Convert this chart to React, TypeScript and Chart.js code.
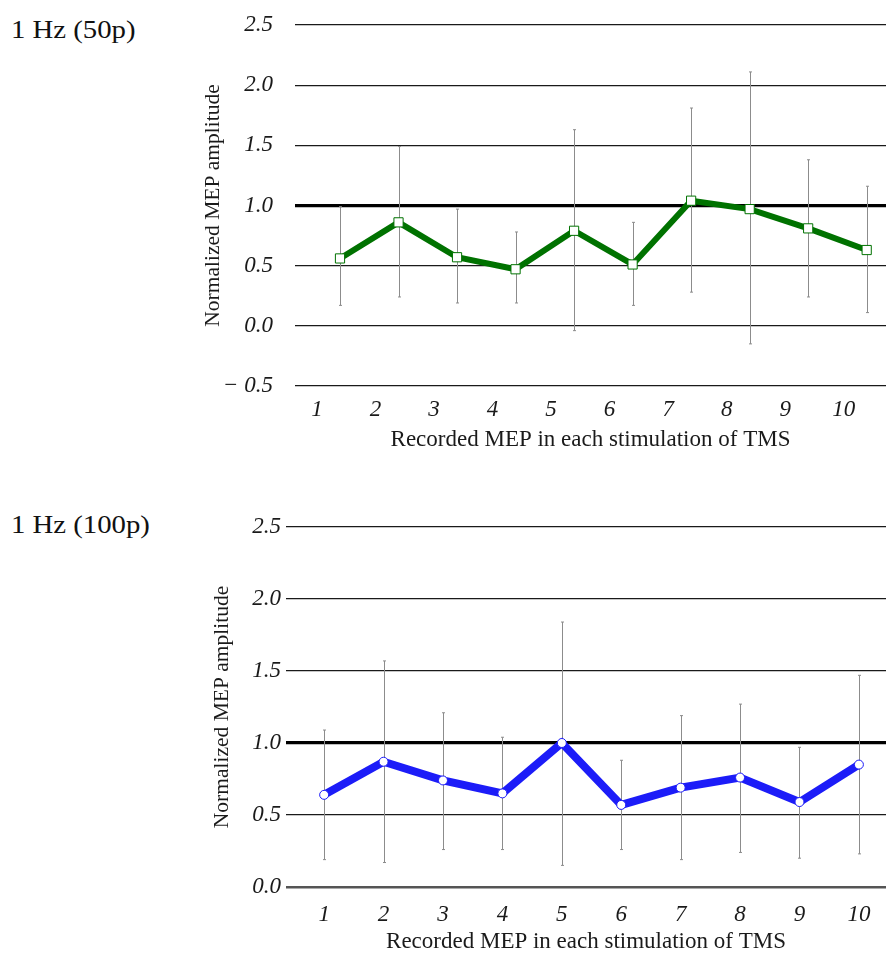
import React, { useEffect, useRef } from "react";
import { Chart, registerables } from "chart.js";

Chart.register(...registerables);

// ---- data ----
const stimulations = [1, 2, 3, 4, 5, 6, 7, 8, 9, 10];

const mean50 = [0.56, 0.86, 0.57, 0.47, 0.79, 0.51, 1.04, 0.97, 0.81, 0.63];
const upper50 = [0.99, 1.49, 0.97, 0.78, 1.63, 0.86, 1.81, 2.11, 1.38, 1.16];
const lower50 = [0.17, 0.24, 0.19, 0.19, -0.04, 0.17, 0.28, -0.15, 0.24, 0.11];

const mean100 = [0.64, 0.87, 0.74, 0.65, 1.0, 0.57, 0.69, 0.76, 0.59, 0.85];
const upper100 = [1.09, 1.57, 1.21, 1.04, 1.84, 0.88, 1.19, 1.27, 0.97, 1.47];
const lower100 = [0.19, 0.17, 0.26, 0.26, 0.15, 0.26, 0.19, 0.24, 0.2, 0.23];

const xTitle = "Recorded MEP in each stimulation of TMS";
const yTitle = "Normalized MEP amplitude";
const title50 = "1 Hz (50p)";
const title100 = "1 Hz (100p)";

const SERIF = "'Liberation Serif', 'Times New Roman', serif";

const errorBarPlugin = {
  id: "errorBars",
  beforeDatasetsDraw(chart: any, _args: any, opts: any) {
    const { ctx } = chart;
    const x = chart.scales.x;
    const y = chart.scales.y;
    ctx.save();
    ctx.strokeStyle = opts.color || "#8a8a8a";
    ctx.lineWidth = 1;
    opts.xs.forEach((xv: number, i: number) => {
      const px = Math.round(x.getPixelForValue(xv)) + 0.5;
      const top = y.getPixelForValue(opts.upper[i]);
      const bot = y.getPixelForValue(opts.lower[i]);
      ctx.beginPath();
      ctx.moveTo(px, top);
      ctx.lineTo(px, bot);
      ctx.moveTo(px - 1.5, top);
      ctx.lineTo(px + 1.5, top);
      ctx.moveTo(px - 1.5, bot);
      ctx.lineTo(px + 1.5, bot);
      ctx.stroke();
    });
    ctx.restore();
  },
};

type P = {
  width: number;
  height: number;
  top: number;
  mean: number[];
  upper: number[];
  lower: number[];
  color: string;
  lineWidth: number;
  pointStyle: string;
  pointRadius: number;
  yMin: number;
  padLeft: number;
  padTop: number;
  yWidth: number;
  yTickPad: number;
  yTitlePad: number;
  xHeight: number;
  xTickPad: number;
  xTitlePad: number;
  labelOffset: number;
  xMin: number;
  xMax: number;
  zeroColor: string;
  zeroWidth: number;
};

function MEPChart(p: P) {
  const ref = useRef<HTMLCanvasElement | null>(null);
  useEffect(() => {
    if (!ref.current) return;
    const chart = new Chart(ref.current, {
      type: "line",
      data: {
        datasets: [
          {
            data: stimulations.map((s, i) => ({ x: s, y: p.mean[i] })),
            borderColor: p.color,
            borderWidth: p.lineWidth,
            pointStyle: p.pointStyle as any,
            pointRadius: p.pointRadius,
            pointBackgroundColor: "#ffffff",
            pointBorderColor: p.color,
            pointBorderWidth: 1,
            tension: 0,
            clip: false,
          },
        ],
      },
      plugins: [errorBarPlugin],
      options: {
        animation: false,
        responsive: false,
        layout: {
          autoPadding: false,
          padding: { left: p.padLeft, top: p.padTop, right: 0, bottom: 0 },
        },
        plugins: {
          legend: { display: false },
          tooltip: { enabled: false },
          errorBars: { xs: stimulations, upper: p.upper, lower: p.lower, color: "#8c8c8c" },
        } as any,
        scales: {
          x: {
            type: "linear",
            min: p.xMin,
            max: p.xMax,
            afterFit: (s: any) => {
              s.height = p.xHeight;
              s.paddingLeft = 0;
              s.paddingRight = 0;
            },
            afterBuildTicks: (s: any) => {
              s.ticks = stimulations.map((v) => ({ value: v }));
            },
            grid: { display: false, drawTicks: true, tickLength: p.xTickPad },
            border: { display: false },
            ticks: {
              padding: 0,
              labelOffset: p.labelOffset,
              color: "#1a1a1a",
              font: { family: SERIF, size: 23, style: "italic" },
              callback: (v: any) => String(v),
              maxRotation: 0,
              autoSkip: false,
            },
            title: {
              display: true,
              text: xTitle,
              color: "#1a1a1a",
              font: { family: SERIF, size: 23 },
              padding: { top: 0, bottom: p.xTitlePad },
            },
          },
          y: {
            type: "linear",
            min: p.yMin,
            max: 2.5,
            afterFit: (s: any) => {
              s.width = p.yWidth;
            },
            grid: {
              drawTicks: false,
              color: (c: any) => (c.tick.value === 1 ? "#000" : c.tick.value === 0 ? p.zeroColor : "#1a1a1a"),
              lineWidth: (c: any) => (c.tick.value === 1 ? 3.2 : c.tick.value === 0 ? p.zeroWidth : 1.3),
            },
            border: { display: false },
            ticks: {
              stepSize: 0.5,
              padding: p.yTickPad,
              color: "#1a1a1a",
              font: { family: SERIF, size: 23, style: "italic" },
              callback: (v: any) => (v < 0 ? "\u2212 " + Math.abs(v).toFixed(1) : Number(v).toFixed(1)),
            },
            title: {
              display: true,
              text: yTitle,
              color: "#1a1a1a",
              font: { family: SERIF, size: 21.5 },
              padding: { top: p.yTitlePad, bottom: 0 },
            },
          },
        },
      } as any,
    });
    return () => chart.destroy();
  }, []);
  return (
    <canvas
      ref={ref}
      width={p.width}
      height={p.height}
      style={{ position: "absolute", left: 0, top: p.top, width: p.width, height: p.height }}
    />
  );
}

const headStyle: React.CSSProperties = {
  position: "absolute",
  left: 11,
  fontFamily: SERIF,
  fontSize: 25,
  lineHeight: "25px",
  color: "#111",
  whiteSpace: "nowrap",
  transform: "scaleX(1.15)",
  transformOrigin: "left center",
};

export default function App() {
  return (
    <div
      style={{
        position: "absolute",
        left: 0,
        top: 0,
        width: 886,
        height: 957,
        background: "#fff",
        overflow: "hidden",
      }}
    >
      <div style={{ ...headStyle, top: 17 }}>{title50}</div>
      <div style={{ ...headStyle, top: 512 }}>{title100}</div>
      <MEPChart
        width={886}
        height={475}
        top={-15}
        mean={mean50}
        upper={upper50}
        lower={lower50}
        color="#007200"
        lineWidth={6}
        pointStyle="rect"
        pointRadius={6.5}
        yMin={-0.5}
        padLeft={190}
        padTop={40}
        yWidth={105}
        yTickPad={22}
        yTitlePad={10}
        xHeight={74}
        xTickPad={10}
        xTitlePad={6}
        labelOffset={-23}
        xMin={0.231}
        xMax={10.33}
        zeroColor="#1a1a1a"
        zeroWidth={1.3}
      />
      <MEPChart
        width={886}
        height={487}
        top={470}
        mean={mean100}
        upper={upper100}
        lower={lower100}
        color="#1c1cf8"
        lineWidth={8}
        pointStyle="circle"
        pointRadius={4.5}
        yMin={0}
        padLeft={200}
        padTop={57}
        yWidth={86}
        yTickPad={5}
        yTitlePad={9}
        xHeight={70}
        xTickPad={14}
        xTitlePad={1}
        labelOffset={0}
        xMin={0.358}
        xMax={10.456}
        zeroColor="#555"
        zeroWidth={2.5}
      />
    </div>
  );
}
